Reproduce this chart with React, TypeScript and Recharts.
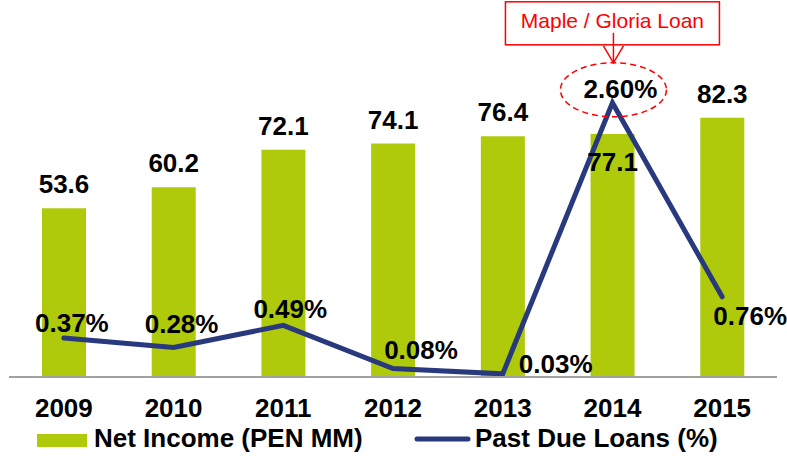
import {
  Bar,
  ComposedChart,
  LabelList,
  Legend,
  Line,
  XAxis,
  YAxis,
} from "recharts";

const years = ["2009", "2010", "2011", "2012", "2013", "2014", "2015"];
const netIncome = [53.6, 60.2, 72.1, 74.1, 76.4, 77.1, 82.3];
const pastDueLoans = [0.37, 0.28, 0.49, 0.08, 0.03, 2.6, 0.76];

const annotationText = "Maple / Gloria Loan";
const annotatedIndex = 5;

// label placement tweaks (dx, dy from the point), picked to match the slide
const lineLabelOffsets = [
  [8, -6],
  [8, -14],
  [7, -7],
  [28, -10],
  [53, -1],
  [8, -5],
  [28, 28],
];

const barColor = "#AFCA0B";
const lineColor = "#283A7D";
const font = "Arial, 'Liberation Sans', sans-serif";

const data = years.map((y, i) => ({
  year: y,
  income: netIncome[i],
  pdl: pastDueLoans[i],
}));

function BarLabel(props: any) {
  const { x, y, width, value } = props;
  const i = props.index ?? netIncome.indexOf(value);
  const dy = i === annotatedIndex ? 37 : -15;
  return (
    <text
      x={x + width / 2}
      y={y + dy}
      textAnchor="middle"
      fontFamily={font}
      fontWeight="bold"
      fontSize={26}
      fill="#000"
    >
      {value.toFixed(1)}
    </text>
  );
}

function LineLabel(props: any) {
  const { x, y, value } = props;
  const i = props.index ?? pastDueLoans.indexOf(value);
  const [dx, dy] = lineLabelOffsets[i] ?? [0, -8];
  const label = (
    <text
      x={x + dx}
      y={y + dy}
      textAnchor="middle"
      fontFamily={font}
      fontWeight="bold"
      fontSize={26}
      fill="#000"
    >
      {value.toFixed(2)}%
    </text>
  );
  if (i !== annotatedIndex) return label;
  return (
    <g>
      <ellipse
        cx={x + 1}
        cy={y - 13}
        rx={53}
        ry={27}
        fill="none"
        stroke="#FF0000"
        strokeWidth={1.5}
        strokeDasharray="6 4"
      />
      <rect x={x - 107} y={y - 101} width={214} height={43} fill="#fff" stroke="#FF0000" strokeWidth={1.5} />
      <text x={x} y={y - 75} textAnchor="middle" fontFamily={font} fontSize={21} fill="#FF0000">
        {annotationText}
      </text>
      <line x1={x + 1} y1={y - 70} x2={x + 1} y2={y - 40} stroke="#FF0000" strokeWidth={1.5} />
      <polyline
        points={`${x - 9},${y - 57} ${x + 1},${y - 40} ${x + 11},${y - 57}`}
        fill="none"
        stroke="#FF0000"
        strokeWidth={1.5}
      />
      {label}
    </g>
  );
}

function YearTick(props: any) {
  const { x, y, payload } = props;
  return (
    <text
      x={x}
      y={y}
      dy={32}
      textAnchor="middle"
      fontFamily={font}
      fontWeight="bold"
      fontSize={26}
      fill="#000"
    >
      {payload.value}
    </text>
  );
}

function LegendBox() {
  return (
    <svg width={787} height={30} style={{ display: "block" }}>
      <rect x={37} y={10} width={50} height={13} fill={barColor} />
      <text x={94} y={23} fontFamily={font} fontWeight="bold" fontSize={26} fill="#000">
        Net Income (PEN MM)
      </text>
      <line x1={417} y1={15} x2={468} y2={15} stroke={lineColor} strokeWidth={5} strokeLinecap="round" />
      <text x={475} y={23} fontFamily={font} fontWeight="bold" fontSize={26} fill="#000">
        Past Due Loans (%)
      </text>
    </svg>
  );
}

export default function App() {
  return (
    <div style={{ position: "absolute", left: 0, top: 0, background: "#fff" }}>
      <ComposedChart
        width={787}
        height={456}
        data={data}
        margin={{ top: 10, right: 10, bottom: 2, left: 9 }}
      >
        <XAxis
          dataKey="year"
          axisLine={{ stroke: "#A0A0A0", strokeWidth: 2 }}
          tickLine={false}
          height={47}
          tick={<YearTick />}
          interval={0}
        />
        <YAxis yAxisId="left" hide domain={[0, 116.5]} />
        <YAxis yAxisId="right" orientation="right" hide domain={[0, 3.48]} />
        <Legend
          verticalAlign="bottom"
          content={<LegendBox />}
          wrapperStyle={{ left: 0, width: 787, height: 30 }}
        />
        <Bar
          yAxisId="left"
          dataKey="income"
          name="Net Income (PEN MM)"
          fill={barColor}
          barSize={44}
          isAnimationActive={false}
        >
          <LabelList dataKey="income" content={<BarLabel />} />
        </Bar>
        <Line
          yAxisId="right"
          type="linear"
          dataKey="pdl"
          name="Past Due Loans (%)"
          stroke={lineColor}
          strokeWidth={5}
          strokeLinecap="round"
          strokeLinejoin="miter"
          dot={false}
          activeDot={false}
          isAnimationActive={false}
        >
          <LabelList dataKey="pdl" content={<LineLabel />} />
        </Line>
      </ComposedChart>
    </div>
  );
}
